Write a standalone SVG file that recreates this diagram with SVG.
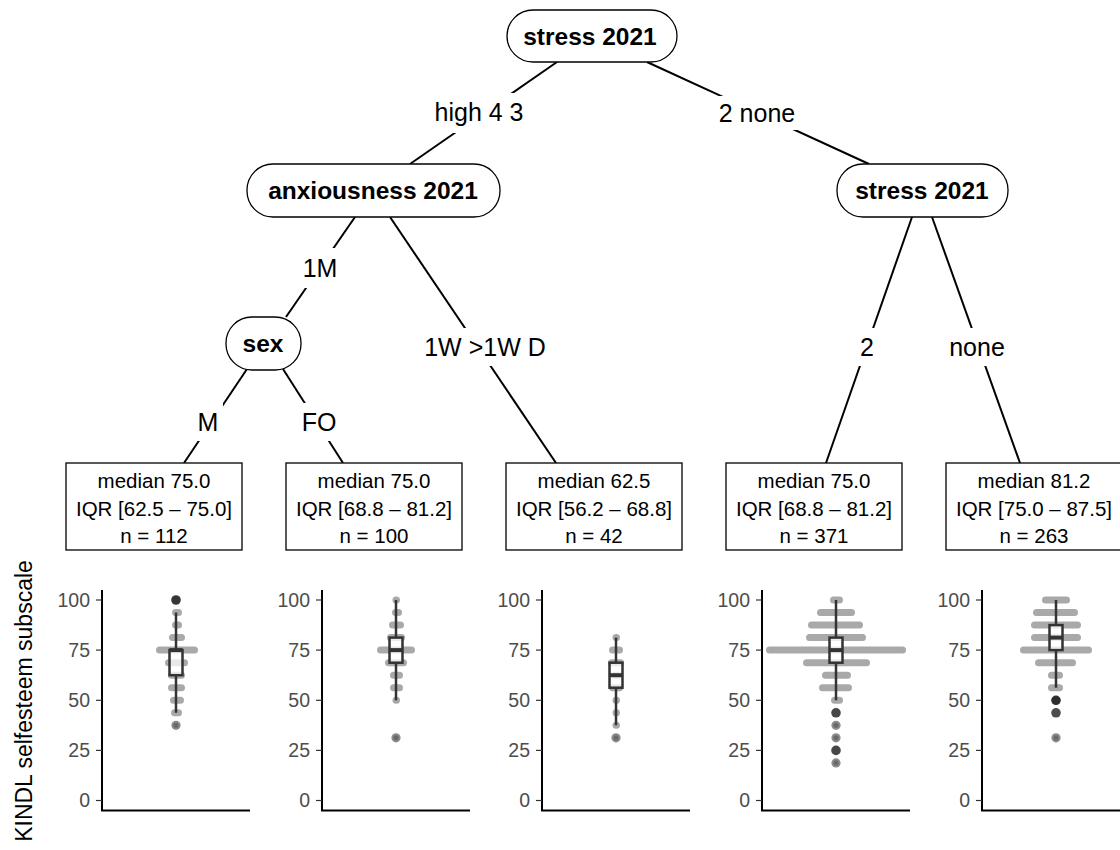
<svg xmlns="http://www.w3.org/2000/svg" width="1120" height="850" viewBox="0 0 1120 850">
<style>
.node{fill:#fff;stroke:#000;stroke-width:1.3}
.nt{font-family:"Liberation Sans",Arial,sans-serif;font-weight:bold;font-size:24.5px;text-anchor:middle;fill:#000}
.et{font-family:"Liberation Sans",Arial,sans-serif;font-size:25px;text-anchor:middle;fill:#000}
.lb{fill:#fff;stroke:none}
.edge{stroke:#000;stroke-width:2;fill:none}
.term{fill:#fff;stroke:#000;stroke-width:1.3}
.tt{font-family:"Liberation Sans",Arial,sans-serif;font-size:20.5px;text-anchor:middle;fill:#000}
.ax{stroke:#000;stroke-width:2;fill:none}
.tk{stroke:#333;stroke-width:1.2}
.tl{font-family:"Liberation Sans",Arial,sans-serif;font-size:19.5px;text-anchor:end;fill:#4d4d4d}
.bar{stroke:#a9a9a9;stroke-width:7;stroke-linecap:round;fill:none}
.box{fill:#fff;fill-opacity:0.75;stroke:#333;stroke-width:2.5}
.wh{stroke:#333;stroke-width:2.5}
.med{stroke:#333;stroke-width:4}
.od{fill:#363636}
.om{fill:#8c8c8c}
.omc{fill:#6a6a6a}
.yt{font-family:"Liberation Sans",Arial,sans-serif;font-size:23px;text-anchor:middle;fill:#000}
</style>

<g id="connectors">
<line class="edge" x1="557" y1="62" x2="410" y2="164"/>
<line class="edge" x1="647" y1="62" x2="869" y2="164"/>
<line class="edge" x1="355" y1="217" x2="286" y2="317"/>
<line class="edge" x1="390" y1="217" x2="556" y2="463"/>
<line class="edge" x1="247" y1="369" x2="184" y2="463"/>
<line class="edge" x1="283" y1="369" x2="343" y2="463"/>
<line class="edge" x1="912" y1="217" x2="826" y2="463"/>
<line class="edge" x1="932" y1="217" x2="1020" y2="463"/>
</g>

<g id="edge-labels">
<rect class="lb" x="430" y="93" width="100" height="40"/>
<text class="et" x="479" y="121">high 4 3</text>
<rect class="lb" x="712" y="96" width="90" height="34"/>
<text class="et" x="757" y="122">2 none</text>
<rect class="lb" x="298" y="248" width="44" height="40"/>
<text class="et" x="320" y="277">1M</text>
<rect class="lb" x="410" y="328" width="150" height="38"/>
<text class="et" x="485" y="356">1W &gt;1W D</text>
<rect class="lb" x="193" y="403" width="30" height="38"/>
<text class="et" x="208" y="431">M</text>
<rect class="lb" x="298" y="403" width="42" height="38"/>
<text class="et" x="319" y="431">FO</text>
<rect class="lb" x="855" y="328" width="24" height="38"/>
<text class="et" x="867" y="356">2</text>
<rect class="lb" x="944" y="328" width="66" height="38"/>
<text class="et" x="977" y="356">none</text>
</g>

<g id="node1">
<rect class="node" x="507" y="10" width="170" height="52" rx="26"/>
<text class="nt" x="590" y="45">stress 2021</text>
</g>
<g id="node2">
<rect class="node" x="247" y="164" width="253" height="53" rx="26"/>
<text class="nt" x="373" y="198.5">anxiousness 2021</text>
</g>
<g id="node3">
<rect class="node" x="226" y="317" width="75" height="53" rx="26"/>
<text class="nt" x="263" y="352">sex</text>
</g>
<g id="node7">
<rect class="node" x="837" y="164" width="171" height="53" rx="26"/>
<text class="nt" x="922" y="199">stress 2021</text>
</g>

<g id="term1">
<rect class="term" x="66" y="463" width="176" height="87"/>
<text class="tt" x="154" y="488">median 75.0</text>
<text class="tt" x="154" y="515.5">IQR [62.5 – 75.0]</text>
<text class="tt" x="154" y="543">n = 112</text>
</g>
<g id="term2">
<rect class="term" x="286" y="463" width="176" height="87"/>
<text class="tt" x="374" y="488">median 75.0</text>
<text class="tt" x="374" y="515.5">IQR [68.8 – 81.2]</text>
<text class="tt" x="374" y="543">n = 100</text>
</g>
<g id="term3">
<rect class="term" x="506" y="463" width="176" height="87"/>
<text class="tt" x="594" y="488">median 62.5</text>
<text class="tt" x="594" y="515.5">IQR [56.2 – 68.8]</text>
<text class="tt" x="594" y="543">n = 42</text>
</g>
<g id="term4">
<rect class="term" x="726" y="463" width="176" height="87"/>
<text class="tt" x="814" y="488">median 75.0</text>
<text class="tt" x="814" y="515.5">IQR [68.8 – 81.2]</text>
<text class="tt" x="814" y="543">n = 371</text>
</g>
<g id="term5">
<rect class="term" x="946" y="463" width="176" height="87"/>
<text class="tt" x="1034" y="488">median 81.2</text>
<text class="tt" x="1034" y="515.5">IQR [75.0 – 87.5]</text>
<text class="tt" x="1034" y="543">n = 263</text>
</g>

<text class="yt" transform="translate(32,701) rotate(-90)">KINDL selfesteem subscale</text>

<g id="panel1">
<line class="ax" x1="102" y1="590" x2="102" y2="811"/>
<line class="ax" x1="101" y1="810.5" x2="250" y2="810.5"/>
<line class="tk" x1="96" y1="600" x2="102" y2="600"/><line class="tk" x1="96" y1="650.1" x2="102" y2="650.1"/><line class="tk" x1="96" y1="700.3" x2="102" y2="700.3"/><line class="tk" x1="96" y1="750.4" x2="102" y2="750.4"/><line class="tk" x1="96" y1="800.5" x2="102" y2="800.5"/>
<text class="tl" x="90" y="607">100</text><text class="tl" x="90" y="657">75</text><text class="tl" x="90" y="707">50</text><text class="tl" x="90" y="757">25</text><text class="tl" x="90" y="807">0</text>
<line class="bar" x1="175.5" y1="612.5" x2="178.5" y2="612.5"/>
<line class="bar" x1="175.5" y1="625.1" x2="178.5" y2="625.1"/>
<line class="bar" x1="172.5" y1="637.6" x2="181.5" y2="637.6"/>
<line class="bar" x1="159.5" y1="650.1" x2="194.5" y2="650.1"/>
<line class="bar" x1="168.5" y1="662.7" x2="184.5" y2="662.7"/>
<line class="bar" x1="171.5" y1="675.2" x2="181.5" y2="675.2"/>
<line class="bar" x1="171.5" y1="687.7" x2="181.5" y2="687.7"/>
<line class="bar" x1="173.5" y1="700.3" x2="180.5" y2="700.3"/>
<line class="bar" x1="174.5" y1="712.8" x2="178.5" y2="712.8"/>
<line class="wh" x1="176" y1="612.5" x2="176" y2="650.1"/>
<line class="wh" x1="176" y1="675.2" x2="176" y2="712.8"/>
<rect class="box" x="169.5" y="650.1" width="13" height="25.1"/>
<line class="med" x1="169.5" y1="650.1" x2="182.5" y2="650.1"/>
<circle class="od" cx="176" cy="600" r="4.8"/>
<circle class="om" cx="176" cy="725.3" r="4.6"/><circle class="omc" cx="176" cy="725.3" r="2.6"/>
</g>

<g id="panel2">
<line class="ax" x1="322" y1="590" x2="322" y2="811"/>
<line class="ax" x1="321" y1="810.5" x2="470" y2="810.5"/>
<line class="tk" x1="316" y1="600" x2="322" y2="600"/><line class="tk" x1="316" y1="650.1" x2="322" y2="650.1"/><line class="tk" x1="316" y1="700.3" x2="322" y2="700.3"/><line class="tk" x1="316" y1="750.4" x2="322" y2="750.4"/><line class="tk" x1="316" y1="800.5" x2="322" y2="800.5"/>
<text class="tl" x="310" y="607">100</text><text class="tl" x="310" y="657">75</text><text class="tl" x="310" y="707">50</text><text class="tl" x="310" y="757">25</text><text class="tl" x="310" y="807">0</text>
<line class="bar" x1="396" y1="600" x2="396.5" y2="600"/>
<line class="bar" x1="395.5" y1="612.5" x2="398.5" y2="612.5"/>
<line class="bar" x1="392.5" y1="625.1" x2="400.5" y2="625.1"/>
<line class="bar" x1="390.5" y1="637.6" x2="401.5" y2="637.6"/>
<line class="bar" x1="380.5" y1="650.1" x2="411.5" y2="650.1"/>
<line class="bar" x1="388.5" y1="662.7" x2="403.5" y2="662.7"/>
<line class="bar" x1="393.5" y1="675.2" x2="399.5" y2="675.2"/>
<line class="bar" x1="393.5" y1="687.7" x2="399.5" y2="687.7"/>
<line class="bar" x1="396" y1="700.3" x2="396.5" y2="700.3"/>
<line class="wh" x1="396" y1="600" x2="396" y2="637.6"/>
<line class="wh" x1="396" y1="662.7" x2="396" y2="700.3"/>
<rect class="box" x="389.5" y="637.6" width="13" height="25.1"/>
<line class="med" x1="389.5" y1="650.1" x2="402.5" y2="650.1"/>
<circle class="om" cx="396" cy="737.8" r="4.6"/><circle class="omc" cx="396" cy="737.8" r="2.6"/>
</g>

<g id="panel3">
<line class="ax" x1="542" y1="590" x2="542" y2="811"/>
<line class="ax" x1="541" y1="810.5" x2="690" y2="810.5"/>
<line class="tk" x1="536" y1="600" x2="542" y2="600"/><line class="tk" x1="536" y1="650.1" x2="542" y2="650.1"/><line class="tk" x1="536" y1="700.3" x2="542" y2="700.3"/><line class="tk" x1="536" y1="750.4" x2="542" y2="750.4"/><line class="tk" x1="536" y1="800.5" x2="542" y2="800.5"/>
<text class="tl" x="530" y="607">100</text><text class="tl" x="530" y="657">75</text><text class="tl" x="530" y="707">50</text><text class="tl" x="530" y="757">25</text><text class="tl" x="530" y="807">0</text>
<line class="bar" x1="616" y1="637.6" x2="616.5" y2="637.6"/>
<line class="bar" x1="612.5" y1="650.1" x2="619.5" y2="650.1"/>
<line class="bar" x1="611.5" y1="662.7" x2="620.5" y2="662.7"/>
<line class="bar" x1="614.5" y1="675.2" x2="618.5" y2="675.2"/>
<line class="bar" x1="612.5" y1="687.7" x2="619.5" y2="687.7"/>
<line class="bar" x1="616" y1="700.3" x2="616.5" y2="700.3"/>
<line class="bar" x1="616" y1="712.8" x2="616.5" y2="712.8"/>
<line class="bar" x1="616" y1="725.3" x2="616.5" y2="725.3"/>
<line class="wh" x1="616" y1="637.6" x2="616" y2="662.7"/>
<line class="wh" x1="616" y1="687.7" x2="616" y2="725.3"/>
<rect class="box" x="609.5" y="662.7" width="13" height="25"/>
<line class="med" x1="609.5" y1="675.2" x2="622.5" y2="675.2"/>
<circle class="om" cx="616" cy="737.8" r="4.6"/><circle class="omc" cx="616" cy="737.8" r="2.6"/>
</g>

<g id="panel4">
<line class="ax" x1="762" y1="590" x2="762" y2="811"/>
<line class="ax" x1="761" y1="810.5" x2="910" y2="810.5"/>
<line class="tk" x1="756" y1="600" x2="762" y2="600"/><line class="tk" x1="756" y1="650.1" x2="762" y2="650.1"/><line class="tk" x1="756" y1="700.3" x2="762" y2="700.3"/><line class="tk" x1="756" y1="750.4" x2="762" y2="750.4"/><line class="tk" x1="756" y1="800.5" x2="762" y2="800.5"/>
<text class="tl" x="750" y="607">100</text><text class="tl" x="750" y="657">75</text><text class="tl" x="750" y="707">50</text><text class="tl" x="750" y="757">25</text><text class="tl" x="750" y="807">0</text>
<line class="bar" x1="833.5" y1="600" x2="839.5" y2="600"/>
<line class="bar" x1="820.5" y1="612.5" x2="851.5" y2="612.5"/>
<line class="bar" x1="811.5" y1="625.1" x2="859.5" y2="625.1"/>
<line class="bar" x1="809.5" y1="637.6" x2="862.5" y2="637.6"/>
<line class="bar" x1="769.5" y1="650.1" x2="902.5" y2="650.1"/>
<line class="bar" x1="806.5" y1="662.7" x2="866.5" y2="662.7"/>
<line class="bar" x1="825.5" y1="675.2" x2="847.5" y2="675.2"/>
<line class="bar" x1="822.5" y1="687.7" x2="848.5" y2="687.7"/>
<line class="bar" x1="834.5" y1="700.3" x2="839.5" y2="700.3"/>
<line class="wh" x1="836" y1="600" x2="836" y2="637.6"/>
<line class="wh" x1="836" y1="662.7" x2="836" y2="700.3"/>
<rect class="box" x="829.5" y="637.6" width="13" height="25.1"/>
<line class="med" x1="829.5" y1="650.1" x2="842.5" y2="650.1"/>
<circle cx="836" cy="712.8" r="4.8" fill="#474747"/>
<circle class="om" cx="836" cy="725.3" r="4.6"/><circle class="omc" cx="836" cy="725.3" r="2.6"/>
<circle class="om" cx="836" cy="737.8" r="4.6"/><circle class="omc" cx="836" cy="737.8" r="2.6"/>
<circle cx="836" cy="750.4" r="4.8" fill="#474747"/>
<circle class="om" cx="836" cy="762.9" r="4.6"/><circle class="omc" cx="836" cy="762.9" r="2.6"/>
</g>

<g id="panel5">
<line class="ax" x1="982" y1="590" x2="982" y2="811"/>
<line class="ax" x1="981" y1="810.5" x2="1120" y2="810.5"/>
<line class="tk" x1="976" y1="600" x2="982" y2="600"/><line class="tk" x1="976" y1="650.1" x2="982" y2="650.1"/><line class="tk" x1="976" y1="700.3" x2="982" y2="700.3"/><line class="tk" x1="976" y1="750.4" x2="982" y2="750.4"/><line class="tk" x1="976" y1="800.5" x2="982" y2="800.5"/>
<text class="tl" x="970" y="607">100</text><text class="tl" x="970" y="657">75</text><text class="tl" x="970" y="707">50</text><text class="tl" x="970" y="757">25</text><text class="tl" x="970" y="807">0</text>
<line class="bar" x1="1045.5" y1="600" x2="1066.5" y2="600"/>
<line class="bar" x1="1036.5" y1="612.5" x2="1074.5" y2="612.5"/>
<line class="bar" x1="1034.5" y1="625.1" x2="1077.5" y2="625.1"/>
<line class="bar" x1="1034.5" y1="637.6" x2="1077.5" y2="637.6"/>
<line class="bar" x1="1023.5" y1="650.1" x2="1088.5" y2="650.1"/>
<line class="bar" x1="1038.5" y1="662.7" x2="1072.5" y2="662.7"/>
<line class="bar" x1="1051.5" y1="675.2" x2="1059.5" y2="675.2"/>
<line class="bar" x1="1051.5" y1="687.7" x2="1059.5" y2="687.7"/>
<line class="wh" x1="1056" y1="600" x2="1056" y2="625.1"/>
<line class="wh" x1="1056" y1="650.1" x2="1056" y2="687.7"/>
<rect class="box" x="1049.5" y="625.1" width="13" height="25"/>
<line class="med" x1="1049.5" y1="637.6" x2="1062.5" y2="637.6"/>
<circle cx="1056" cy="700.3" r="4.8" fill="#2e2e2e"/>
<circle cx="1056" cy="712.8" r="4.8" fill="#4e4e4e"/>
<circle class="om" cx="1056" cy="737.8" r="4.6"/><circle class="omc" cx="1056" cy="737.8" r="2.6"/>
</g>
</svg>
